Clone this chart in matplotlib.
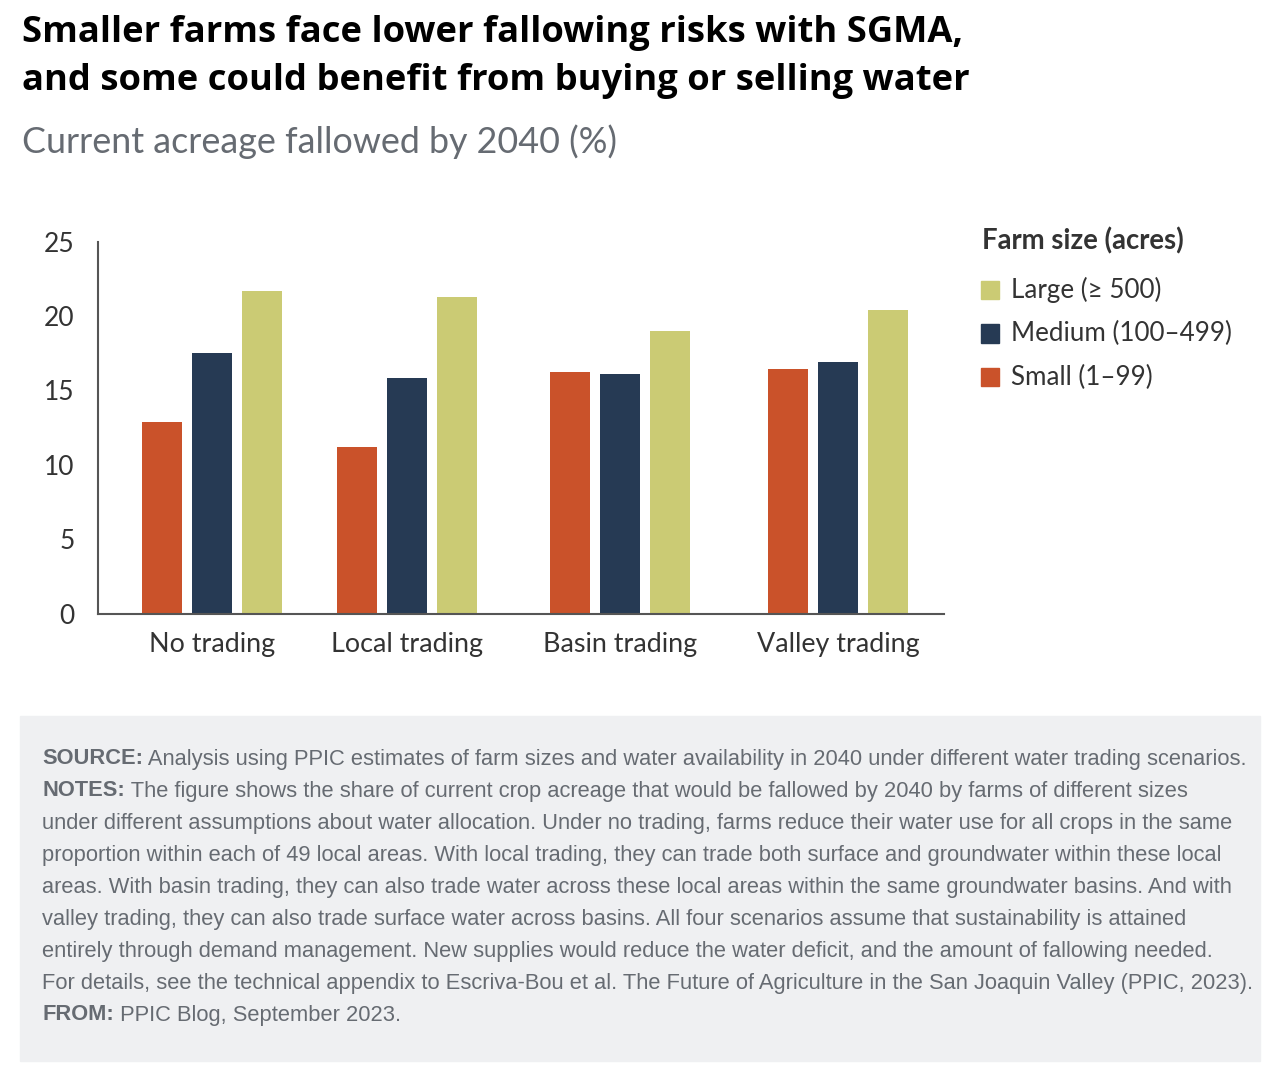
import matplotlib
matplotlib.use("Agg")
import matplotlib.pyplot as plt
from matplotlib.patches import Rectangle

categories = ["No trading", "Local trading", "Basin trading", "Valley trading"]
small = [12.9, 11.2, 16.2, 16.4]
medium = [17.5, 15.8, 16.1, 16.9]
large = [21.7, 21.3, 19.0, 20.4]
series_names = ["Large (\u2265 500)", "Medium (100\u2013499)", "Small (1\u201399)"]
yticks = [0, 5, 10, 15, 20, 25]

colors = {"small": "#ca522a", "medium": "#263a54", "large": "#cbcb74"}
TEXT_DARK = "#333333"
GRAY = "#666b72"

# layout (figure pixels)
W, H = 1280, 1068
group_x = [212, 407, 620, 838]
bar_w = 40
step = 50

fig = plt.figure(figsize=(W / 100, H / 100), dpi=100)
ax = fig.add_axes([98 / W, 1 - 613.5 / H, (944 - 98) / W, (613.5 - 241.5) / H])

for off, vals, key in [(-step, small, "small"), (0, medium, "medium"), (step, large, "large")]:
    ax.bar([g + off for g in group_x], vals, width=bar_w, color=colors[key])

ax.set_xlim(98, 944)
ax.set_ylim(0, 25)
ax.set_yticks(yticks)
ax.set_xticks(group_x)
ax.set_xticklabels(categories)
for s in ["top", "right"]:
    ax.spines[s].set_visible(False)
for s in ["left", "bottom"]:
    ax.spines[s].set_color("#555555")
    ax.spines[s].set_linewidth(1.5)
ax.tick_params(axis="both", length=0, colors=TEXT_DARK)
ax.tick_params(axis="y", labelsize=19, pad=17)
ax.tick_params(axis="x", labelsize=19.4, pad=13)
for lbl in ax.get_xticklabels() + ax.get_yticklabels():
    lbl.set_family("Lato")

# titles
fig.text(22 / W, 1 - 33 / H, "Smaller farms face lower fallowing risks with SGMA,",
         fontsize=26.2, fontweight="bold", family="Open Sans", color="black", va="center")
fig.text(22 / W, 1 - 81 / H, "and some could benefit from buying or selling water",
         fontsize=26.2, fontweight="bold", family="Open Sans", color="black", va="center")
fig.text(22 / W, 1 - 142 / H, "Current acreage fallowed by 2040 (%)",
         fontsize=25.8, family="Lato", color=GRAY, va="center")

# legend
fig.text(982 / W, 1 - 241 / H, "Farm size (acres)", fontsize=19.8, fontweight="bold",
         family="Lato", color=TEXT_DARK, va="center")
leg_keys = ["large", "medium", "small"]
for i, (name, key) in enumerate(zip(series_names, leg_keys)):
    yc = 290 + i * 43.5
    fig.patches.append(Rectangle((981 / W, 1 - (yc + 9) / H), 18 / W, 18 / H,
                                 transform=fig.transFigure, color=colors[key]))
    fig.text(1011 / W, 1 - yc / H, name, fontsize=18.7, family="Lato",
             color=TEXT_DARK, va="center")

# notes box
fig.patches.append(Rectangle((20 / W, 1 - 1061 / H), 1240 / W, 345 / H,
                             transform=fig.transFigure, color="#eff0f2", zorder=0))

notes = [
    ("SOURCE:", " Analysis using PPIC estimates of farm sizes and water availability in 2040 under different water trading scenarios."),
    ("NOTES:", " The figure shows the share of current crop acreage that would be fallowed by 2040 by farms of different sizes"),
    ("", "under different assumptions about water allocation. Under no trading, farms reduce their water use for all crops in the same"),
    ("", "proportion within each of 49 local areas. With local trading, they can trade both surface and groundwater within these local"),
    ("", "areas. With basin trading, they can also trade water across these local areas within the same groundwater basins. And with"),
    ("", "valley trading, they can also trade surface water across basins. All four scenarios assume that sustainability is attained"),
    ("", "entirely through demand management. New supplies would reduce the water deficit, and the amount of fallowing needed."),
    ("", "For details, see the technical appendix to Escriva-Bou et al. The Future of Agriculture in the San Joaquin Valley (PPIC, 2023)."),
    ("FROM:", " PPIC Blog, September 2023."),
]
renderer = fig.canvas.get_renderer()
for i, (bold, rest) in enumerate(notes):
    y = 1 - (759 + i * 32) / H
    x = 42 / W
    if bold:
        t = fig.text(x, y, bold, fontsize=15.75, fontweight="bold", family="Liberation Sans",
                     color=GRAY, va="center")
        bb = t.get_window_extent(renderer)
        x = bb.x1 / W
    fig.text(x, y, rest, fontsize=15.75, family="Liberation Sans", color=GRAY, va="center")

fig.savefig("out.png", dpi=100, facecolor="white")
